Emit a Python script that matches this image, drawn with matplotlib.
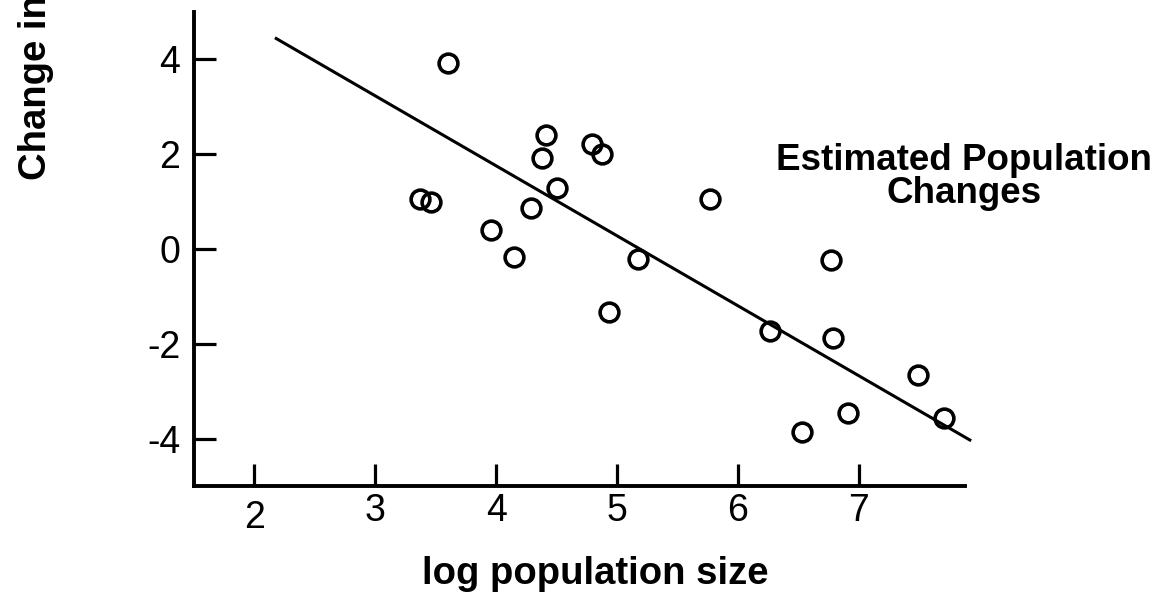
import numpy as np
import matplotlib
matplotlib.use('Agg')
import matplotlib.pyplot as plt

# log population size vs estimated change
log_pop = [3.37, 3.46, 3.60, 3.96, 4.15, 4.29, 4.38, 4.41, 4.50, 4.79, 4.88,
           4.93, 5.17, 5.77, 6.27, 6.53, 6.77, 6.79, 6.91, 7.49, 7.71]
change = [1.06, 0.99, 3.93, 0.39, -0.16, 0.87, 1.91, 2.40, 1.29, 2.21, 2.01,
          -1.32, -0.21, 1.06, -1.74, -3.87, -0.23, -1.87, -3.45, -2.66, -3.56]

# fitted line end points
fit_x = [2.18, 7.92]
fit_y = [4.44, -4.03]

x_ticks = [2, 3, 4, 5, 6, 7]
y_ticks = [-4, -2, 0, 2, 4]


def main():

    plt.rcParams['font.family'] = ['Liberation Sans', 'DejaVu Sans']
    plt.rcParams['axes.unicode_minus'] = False

    fig = plt.figure(figsize=(11.69, 5.96), dpi=100)
    ax = fig.add_axes([0.166, 0.1846, 0.6595, 0.7953])

    ax.plot(fit_x, fit_y, color='black', linewidth=2.2, clip_on=False)
    ax.plot(log_pop, change, linestyle='none', marker='o', markersize=13.5,
            markerfacecolor='none', markeredgecolor='black', markeredgewidth=2.6,
            clip_on=False)

    ax.set_xlim(1.5, 7.88)
    ax.set_ylim(-5, 5)

    ax.spines['top'].set_visible(False)
    ax.spines['right'].set_visible(False)
    ax.spines['left'].set_linewidth(2.8)
    ax.spines['bottom'].set_linewidth(2.8)

    ax.set_xticks(x_ticks)
    ax.set_yticks(y_ticks)
    ax.tick_params(direction='in', length=16, width=2.3, color='black')
    ax.tick_params(axis='x', labelsize=27, pad=5)
    ax.tick_params(axis='y', labelsize=27, pad=10)

    # the "2" label sits a bit lower than the others in the original
    ax.xaxis.get_major_ticks()[0].set_pad(10)

    ax.set_xlabel('log population size', fontsize=27.5, fontweight='bold')
    ax.xaxis.set_label_coords(0.5207, -0.148)

    # the y label is cut off at the top edge in the original
    fig.text(36 / 1169, 1 - 180 / 596, 'Change in', rotation=90,
             rotation_mode='anchor', ha='left', va='center',
             fontsize=27.5, fontweight='bold')

    fig.text(964 / 1169, 1 - 177 / 596, 'Estimated Population\nChanges',
             ha='center', va='center', multialignment='center',
             fontsize=26.5, fontweight='bold', linespacing=0.95)

    fig.savefig('out.png', dpi=100)


if __name__ == '__main__':
    main()
